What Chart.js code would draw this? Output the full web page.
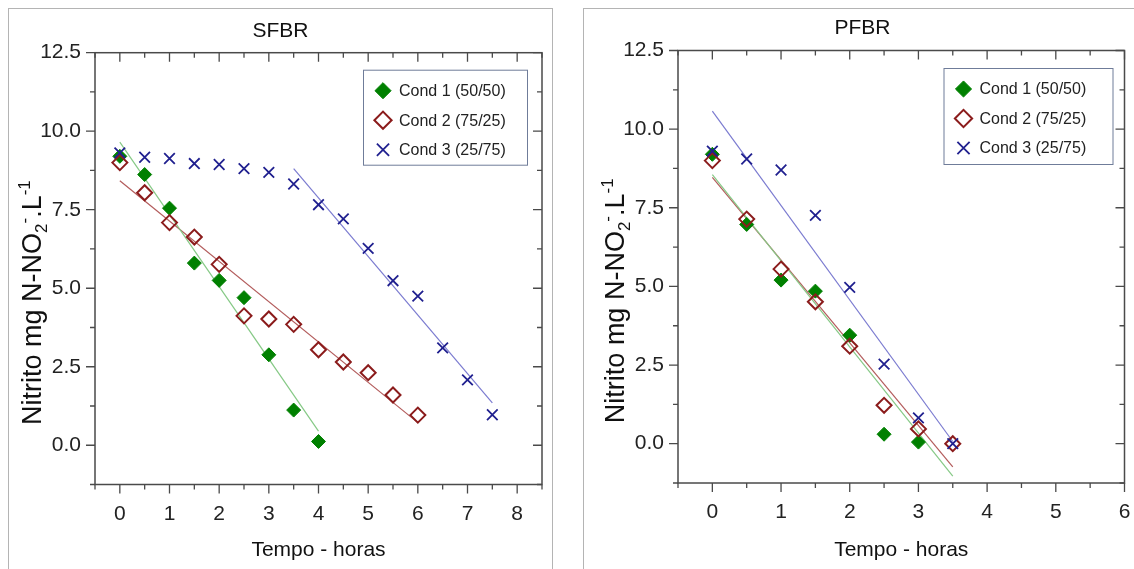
<!DOCTYPE html>
<html>
<head>
<meta charset="utf-8">
<script src="https://cdn.jsdelivr.net/npm/chart.js@4/dist/chart.umd.min.js"></script>
<style>
html, body { margin: 0; padding: 0; background: #fff; overflow: hidden; }
.panel { position: absolute; top: 8px; height: 600px; border: 1px solid #b4b4b4; overflow: hidden; background: #fff; }
#panelS { left: 8px; width: 543px; }
#panelP { left: 583px; width: 552px; }
canvas { display: block; }
</style>
</head>
<body>
<div class="panel" id="panelS"><canvas id="chartS" width="543" height="560"></canvas></div>
<div class="panel" id="panelP"><canvas id="chartP" width="550" height="560"></canvas></div>
<script>
// ---- data ----
var seriesLabels = ['Cond 1 (50/50)', 'Cond 2 (75/25)', 'Cond 3 (25/75)'];

// SFBR
var sfbrTime1 = [0, 0.5, 1, 1.5, 2, 2.5, 3, 3.5, 4];
var sfbrCond1 = [9.2, 8.62, 7.55, 5.80, 5.25, 4.70, 2.88, 1.12, 0.12];
var sfbrTime2 = [0, 0.5, 1, 1.5, 2, 2.5, 3, 3.5, 4, 4.5, 5, 5.5, 6];
var sfbrCond2 = [9.0, 8.04, 7.09, 6.63, 5.76, 4.12, 4.02, 3.85, 3.04, 2.65, 2.31, 1.60, 0.96];
var sfbrTime3 = [0, 0.5, 1, 1.5, 2, 2.5, 3, 3.5, 4, 4.5, 5, 5.5, 6, 6.5, 7, 7.5];
var sfbrCond3 = [9.31, 9.17, 9.13, 8.97, 8.94, 8.81, 8.69, 8.32, 7.66, 7.21, 6.27, 5.24, 4.75, 3.10, 2.08, 0.97];
// fitted lines (end points)
var sfbrFit1 = [[0, 9.65], [4, 0.45]];
var sfbrFit2 = [[0, 8.42], [6, 0.72]];
var sfbrFit3 = [[3.5, 8.81], [7.5, 1.35]];

// PFBR
var pfbrTime1 = [0, 0.5, 1, 1.5, 2, 2.5, 3];
var pfbrCond1 = [9.2, 6.97, 5.20, 4.85, 3.45, 0.30, 0.05];
var pfbrTime = [0, 0.5, 1, 1.5, 2, 2.5, 3, 3.5];
var pfbrCond2 = [9.0, 7.14, 5.55, 4.51, 3.10, 1.22, 0.47, 0.0];
var pfbrCond3 = [9.30, 9.05, 8.70, 7.26, 4.97, 2.53, 0.82, 0.0];
var pfbrFit1 = [[0, 8.55], [3.5, -1.03]];
var pfbrFit2 = [[0, 8.47], [3.5, -0.74]];
var pfbrFit3 = [[0, 10.57], [3.5, 0.07]];

// axes
var sfbrXTicks = [0, 1, 2, 3, 4, 5, 6, 7, 8];
var pfbrXTicks = [0, 1, 2, 3, 4, 5, 6];
var yTicks = [0, 2.5, 5, 7.5, 10, 12.5];

var yTitleParts = [
    { t: 'Nitrito mg N-NO' }, { t: '2', sub: true }, { t: '-', sup: true },
    { t: '.L' }, { t: '-1', sup: true }
];

Chart.defaults.font.family = "'Liberation Sans', Arial, sans-serif";
Chart.defaults.color = '#222';

function toPoints(xs, ys) {
    return xs.map(function(x, i) { return { x: x, y: ys[i] }; });
}
function pairPoints(p) {
    return p.map(function(v) { return { x: v[0], y: v[1] }; });
}

var markerStyles = [
    { pointStyle: 'rectRot', pointRadius: 7, backgroundColor: '#008000', borderColor: '#008000', pointBorderWidth: 1 },
    { pointStyle: 'rectRot', pointRadius: 7.5, backgroundColor: 'rgba(255,255,255,0)', borderColor: '#8b1c1c', pointBorderWidth: 2 },
    { pointStyle: 'crossRot', pointRadius: 7.5, backgroundColor: '#20208f', borderColor: '#20208f', pointBorderWidth: 1.8 }
];
var fitColors = ['#86c986', '#b35c5c', '#7b7bd0'];

function buildDatasets(series, fits) {
    var sets = [];
    series.forEach(function(pts, i) {
        var m = markerStyles[i];
        sets.push({
            label: seriesLabels[i],
            data: pts,
            showLine: false,
            order: 3 - i,
            pointStyle: m.pointStyle,
            pointRadius: m.pointRadius,
            pointBorderWidth: m.pointBorderWidth,
            backgroundColor: m.backgroundColor,
            borderColor: m.borderColor,
            inLegend: true
        });
    });
    fits.forEach(function(pts, i) {
        sets.push({
            label: 'fit' + (i + 1),
            data: pts,
            showLine: true,
            order: 5,
            pointRadius: 0,
            borderWidth: 1.2,
            borderColor: fitColors[i],
            backgroundColor: fitColors[i]
        });
    });
    return sets;
}

// box, mirrored ticks (major + minor), legend and rich y title
var frameTicksPlugin = {
    id: 'frameTicks',
    afterDraw: function(chart, args, opts) {
        var ctx = chart.ctx, a = chart.chartArea;
        var xs = chart.scales.x, ys = chart.scales.y;
        ctx.save();
        ctx.strokeStyle = '#4a4a4a';
        ctx.lineWidth = 1.5;
        ctx.strokeRect(a.left, a.top, a.right - a.left, a.bottom - a.top);

        ctx.lineWidth = 1.3;
        var v, p, major, len;
        for (v = xs.min; v <= xs.max + 1e-9; v += opts.xMinor) {
            p = xs.getPixelForValue(v);
            major = Math.abs(v / opts.xMajor - Math.round(v / opts.xMajor)) < 1e-6;
            len = major ? 9 : 5;
            ctx.beginPath();
            ctx.moveTo(p, a.bottom); ctx.lineTo(p, a.bottom + len);
            ctx.moveTo(p, a.top); ctx.lineTo(p, a.top + len);
            ctx.stroke();
        }
        for (v = ys.min; v <= ys.max + 1e-9; v += opts.yMinor) {
            p = ys.getPixelForValue(v);
            major = Math.abs(v / opts.yMajor - Math.round(v / opts.yMajor)) < 1e-6;
            len = major ? 9 : 5;
            ctx.beginPath();
            ctx.moveTo(a.left, p); ctx.lineTo(a.left - len, p);
            ctx.moveTo(a.right, p); ctx.lineTo(a.right - len, p);
            ctx.stroke();
        }

        // y title with sub/superscripts
        var size = 27;
        ctx.translate(a.left - opts.yTitleGap, (a.top + a.bottom) / 2 + opts.yTitleShift);
        ctx.rotate(-Math.PI / 2);
        ctx.fillStyle = '#111';
        ctx.textBaseline = 'alphabetic';
        ctx.textAlign = 'left';
        var total = 0;
        yTitleParts.forEach(function(part) {
            ctx.font = ((part.sub || part.sup) ? Math.round(size * 0.62) : size) + "px 'Liberation Sans', Arial, sans-serif";
            part.w = ctx.measureText(part.t).width;
            total += part.w;
        });
        var tx = -total / 2;
        yTitleParts.forEach(function(part) {
            ctx.font = ((part.sub || part.sup) ? Math.round(size * 0.62) : size) + "px 'Liberation Sans', Arial, sans-serif";
            var dy = part.sub ? size * 0.22 : (part.sup ? -size * 0.42 : 0);
            ctx.fillText(part.t, tx, dy);
            tx += part.w;
        });
        ctx.restore();

        // legend
        ctx.save();
        var bx = a.right - opts.legendRight - opts.legendW;
        var by = a.top + opts.legendTop;
        ctx.fillStyle = '#fff';
        ctx.fillRect(bx, by, opts.legendW, opts.legendH);
        ctx.strokeStyle = '#6f7c99';
        ctx.lineWidth = 1;
        ctx.strokeRect(bx + 0.5, by + 0.5, opts.legendW, opts.legendH);
        ctx.font = "16px 'Liberation Sans', Arial, sans-serif";
        ctx.textBaseline = 'middle';
        ctx.textAlign = 'left';
        var row = 0;
        chart.data.datasets.forEach(function(ds) {
            if (!ds.inLegend) return;
            var cy = by + 21 + row * 29.5;
            ctx.fillStyle = ds.backgroundColor;
            ctx.strokeStyle = ds.borderColor;
            ctx.lineWidth = ds.pointBorderWidth;
            Chart.helpers.drawPoint(ctx, {
                pointStyle: ds.pointStyle, radius: ds.pointRadius * 1.15, rotation: 0, borderWidth: ds.pointBorderWidth
            }, bx + 20, cy);
            ctx.fillStyle = '#222';
            ctx.fillText(ds.label, bx + 36, cy + 1);
            row++;
        });
        ctx.restore();
    }
};

function makeChart(id, opt) {
    return new Chart(document.getElementById(id), {
        type: 'scatter',
        data: { datasets: opt.datasets },
        options: {
            responsive: false,
            animation: false,
            events: [],
            layout: { padding: { left: opt.padLeft, right: opt.padRight, top: 0, bottom: 0 } },
            plugins: {
                legend: { display: false },
                tooltip: { enabled: false },
                title: {
                    display: true,
                    text: opt.title,
                    color: '#111',
                    font: { size: 21, weight: 'normal' },
                    padding: { top: opt.titleTop, bottom: opt.titleBottom }
                },
                frameTicks: opt.frame
            },
            scales: {
                x: {
                    type: 'linear',
                    min: opt.xMin, max: opt.xMax,
                    grid: { display: false, drawTicks: false },
                    border: { display: false },
                    afterBuildTicks: function(s) { s.ticks = opt.xTicks.map(function(v) { return { value: v }; }); },
                    afterFit: function(s) {
                        s.height = opt.xHeight;
                        s.paddingLeft = 0;
                        s.paddingRight = 0;
                    },
                    ticks: {
                        padding: 17, maxRotation: 0, autoSkip: false,
                        font: { size: 21 }, color: '#222',
                        callback: function(v) { return String(v); }
                    },
                    title: {
                        display: true, text: 'Tempo - horas', color: '#111',
                        font: { size: 21 }, padding: { top: 0, bottom: opt.xTitleBottom }
                    }
                },
                y: {
                    type: 'linear',
                    min: -1.25, max: 12.5,
                    grid: { display: false, drawTicks: false },
                    border: { display: false },
                    afterBuildTicks: function(s) { s.ticks = yTicks.map(function(v) { return { value: v }; }); },
                    afterFit: function(s) {
                        s.width = opt.yWidth;
                        s.paddingTop = 0;
                        s.paddingBottom = 0;
                    },
                    ticks: {
                        padding: 14, autoSkip: false,
                        font: { size: 21 }, color: '#222',
                        callback: function(v) { return Number(v).toFixed(1); }
                    }
                }
            }
        },
        plugins: [frameTicksPlugin]
    });
}

makeChart('chartS', {
    title: 'SFBR',
    titleTop: 9.4, titleBottom: 9.1,
    padLeft: 10, padRight: 10, yWidth: 76, xHeight: 84.5, xTitleBottom: 6,
    xMin: -0.5, xMax: 8.5, xTicks: sfbrXTicks,
    datasets: buildDatasets(
        [toPoints(sfbrTime1, sfbrCond1), toPoints(sfbrTime2, sfbrCond2), toPoints(sfbrTime3, sfbrCond3)],
        [pairPoints(sfbrFit1), pairPoints(sfbrFit2), pairPoints(sfbrFit3)]
    ),
    frame: { xMinor: 0.5, xMajor: 1, yMinor: 1.25, yMajor: 2.5,
             yTitleGap: 54, yTitleShift: 34,
             legendRight: 15, legendTop: 17, legendW: 164, legendH: 95 }
});

makeChart('chartP', {
    title: 'PFBR',
    titleTop: 7, titleBottom: 9.3,
    padLeft: 14, padRight: 7, yWidth: 80, xHeight: 86, xTitleBottom: 6,
    xMin: -0.5, xMax: 6, xTicks: pfbrXTicks,
    datasets: buildDatasets(
        [toPoints(pfbrTime1, pfbrCond1), toPoints(pfbrTime, pfbrCond2), toPoints(pfbrTime, pfbrCond3)],
        [pairPoints(pfbrFit1), pairPoints(pfbrFit2), pairPoints(pfbrFit3)]
    ),
    frame: { xMinor: 0.5, xMajor: 1, yMinor: 1.25, yMajor: 2.5,
             yTitleGap: 54, yTitleShift: 34,
             legendRight: 12, legendTop: 17.5, legendW: 169, legendH: 96 }
});
</script>
</body>
</html>
